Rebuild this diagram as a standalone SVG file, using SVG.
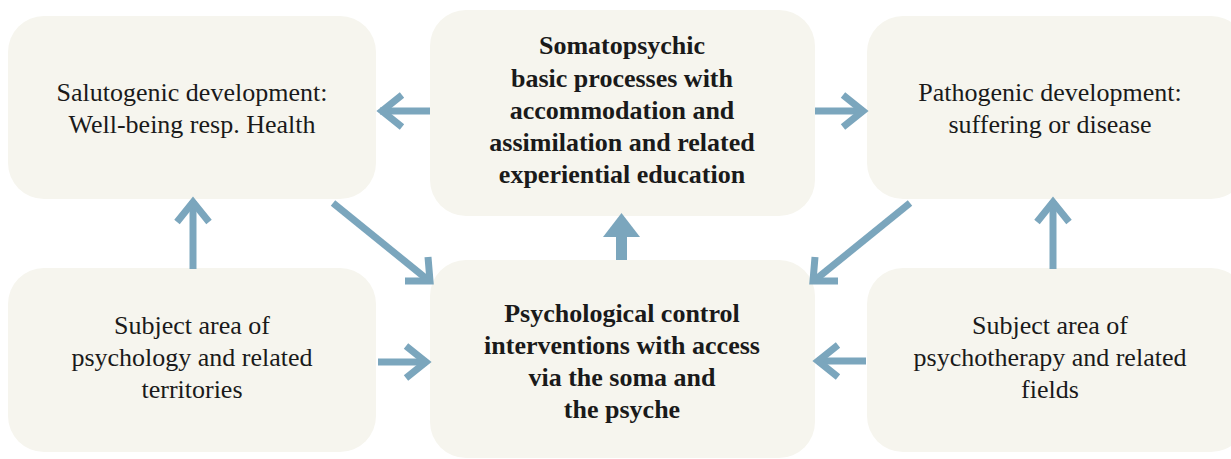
<svg xmlns="http://www.w3.org/2000/svg" width="1231" height="459" viewBox="0 0 1231 459">
  <style>
    .box { fill: #f6f5ee; }
    .lbl { font-family: "Liberation Serif", "DejaVu Serif", serif; font-size: 26px; fill: #1a1a1a; text-anchor: middle; }
    .bold { font-weight: bold; }
    .arr { fill: none; stroke: #7ba6bd; stroke-width: 7; stroke-linecap: butt; stroke-linejoin: miter; }
    .arr-thick { stroke-width: 11; }
  </style>
  <rect width="1231" height="459" fill="#ffffff"/>

  <g id="salutogenic">
    <rect class="box" x="8" y="16" width="368" height="183" rx="36"/>
    <text class="lbl" x="192" y="101">Salutogenic development:</text>
    <text class="lbl" x="192" y="133">Well-being resp. Health</text>
  </g>

  <g id="somatopsychic">
    <rect class="box" x="430" y="10" width="385" height="206" rx="36"/>
    <text class="lbl bold" x="622" y="54">Somatopsychic</text>
    <text class="lbl bold" x="622" y="87">basic processes with</text>
    <text class="lbl bold" x="622" y="119">accommodation and</text>
    <text class="lbl bold" x="622" y="151">assimilation and related</text>
    <text class="lbl bold" x="622" y="183">experiential education</text>
  </g>

  <g id="pathogenic">
    <rect class="box" x="867" y="16" width="380" height="183" rx="36"/>
    <text class="lbl" x="1050" y="101">Pathogenic development:</text>
    <text class="lbl" x="1050" y="133">suffering or disease</text>
  </g>

  <g id="psychology">
    <rect class="box" x="8" y="268" width="368" height="184" rx="36"/>
    <text class="lbl" x="192" y="334">Subject area of</text>
    <text class="lbl" x="192" y="366">psychology and related</text>
    <text class="lbl" x="192" y="398">territories</text>
  </g>

  <g id="interventions">
    <rect class="box" x="430" y="260" width="385" height="198" rx="36"/>
    <text class="lbl bold" x="622" y="322">Psychological control</text>
    <text class="lbl bold" x="622" y="354">interventions with access</text>
    <text class="lbl bold" x="622" y="386">via the soma and</text>
    <text class="lbl bold" x="622" y="418">the psyche</text>
  </g>

  <g id="psychotherapy">
    <rect class="box" x="867" y="268" width="380" height="184" rx="36"/>
    <text class="lbl" x="1050" y="334">Subject area of</text>
    <text class="lbl" x="1050" y="366">psychotherapy and related</text>
    <text class="lbl" x="1050" y="398">fields</text>
  </g>

  <g id="connectors">
    <!-- top row: centre box feeds both outcomes -->
    <line class="arr" x1="430" y1="111" x2="380" y2="111"/>
    <polyline class="arr" points="402,95 382,111 402,127"/>
    <line class="arr" x1="815" y1="111" x2="864" y2="111"/>
    <polyline class="arr" points="843,95 863,111 843,127"/>

    <!-- outcomes back into interventions -->
    <line class="arr" x1="333" y1="203" x2="428" y2="280"/>
    <polyline class="arr" points="428,257 430,281 405,281"/>
    <line class="arr" x1="910" y1="203" x2="815" y2="280"/>
    <polyline class="arr" points="815,257 813,281 838,281"/>

    <!-- vertical arrows -->
    <line class="arr" x1="193" y1="269" x2="193" y2="201"/>
    <polyline class="arr" points="177,222 193,202 209,222"/>
    <line class="arr" x1="1053" y1="269" x2="1053" y2="201"/>
    <polyline class="arr" points="1037,222 1053,202 1069,222"/>
    <line class="arr arr-thick" x1="621.5" y1="260" x2="621.5" y2="222"/>
    <polygon points="603,237 621.5,213 640,237" fill="#7ba6bd"/>

    <!-- subject areas into interventions -->
    <line class="arr" x1="378" y1="362" x2="427" y2="362"/>
    <polyline class="arr" points="406,346 426,362 406,378"/>
    <line class="arr" x1="866" y1="361" x2="817" y2="361"/>
    <polyline class="arr" points="838,345 818,361 838,377"/>
  </g>
</svg>
